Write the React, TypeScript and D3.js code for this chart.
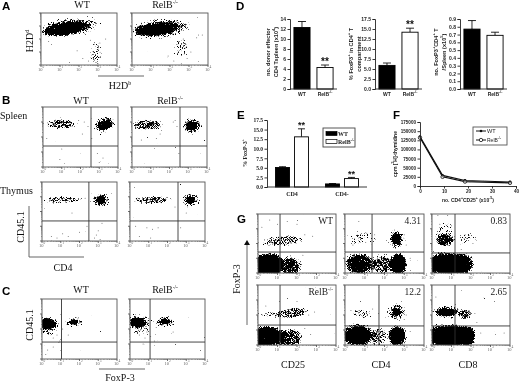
import React, { useEffect, useRef } from 'react'
import * as d3 from 'd3'

// Flow panels: values are in decades (0-4) on both axes.
// Dense populations are read off as ellipses [x, y, rx, ry, tilt, density],
// stray events as single [x, y] points.
type Cluster = [number, number, number, number, number, number]
type Pt = [number, number]

const decadeTicks = [0, 1, 2, 3, 4]
const minorSteps = [2, 3, 4, 5, 6, 7, 8, 9]

const aWtClusters: Cluster[] = [[1.3, 2.8, 1.3, 0.52, 8, 1], [1.5, 2.9, 1.85, 0.85, 8, 0.5], [2.9, 0.9, 0.35, 1.0, 0, 0.36]]
const aWtStrays: Pt[] = [[2.8, 1.6], [3.0, 1.2], [2.7, 0.8], [3.1, 0.6], [2.5, 0.3], [2.9, 0.2], [3.1, 1.7], [2.2, 0.5], [3.4, 2.0], [1.9, 1.1], [0.4, 1.8], [1.5, 0.2], [3.0, 0.1], [2.6, 1.9]]
const aRelClusters: Cluster[] = [[1.3, 2.75, 1.3, 0.52, 6, 1], [1.5, 2.8, 1.85, 0.85, 6, 0.5], [2.6, 1.3, 0.5, 0.9, 0, 0.36]]
const aRelStrays: Pt[] = [[2.5, 1.8], [2.8, 1.3], [2.4, 0.9], [2.9, 0.5], [2.2, 0.3], [3.4, 2.1], [3.5, 2.3], [2.7, 2.0], [3.1, 1.0], [1.9, 0.7], [2.6, 0.1], [3.7, 2.3]]

const bSpWtClusters: Cluster[] = [[0.95, 2.85, 1.0, 0.38, 0, 0.55], [3.3, 2.8, 0.42, 0.32, 22, 1], [3.3, 2.85, 0.68, 0.58, 15, 0.55]]
const bSpWtStrays: Pt[] = [[2.2, 3.0], [2.4, 2.7], [2.1, 2.2], [0.9, 0.5], [1.0, 1.2], [2.9, 0.9], [3.2, 0.6], [3.0, 0.3], [0.2, 1.9], [1.9, 3.1], [2.6, 1.9]]
const bSpRelClusters: Cluster[] = [[0.8, 2.8, 0.95, 0.4, 0, 0.58], [3.2, 2.75, 0.3, 0.32, 0, 0.9], [3.2, 2.75, 0.62, 0.62, 0, 0.52]]
const bSpRelStrays: Pt[] = [[2.2, 3.0], [2.3, 3.1], [1.5, 2.2], [2.5, 0.9], [2.4, 2.7], [1.3, 1.9], [0.5, 1.8]]
const bThWtClusters: Cluster[] = [[1.05, 2.78, 1.15, 0.3, 0, 0.48], [3.15, 2.78, 0.26, 0.28, 10, 0.95], [3.15, 2.8, 0.58, 0.58, 0, 0.48]]
const bThWtStrays: Pt[] = [[1.1, 0.5], [0.8, 0.2], [1.4, 0.3], [2.0, 0.6], [2.4, 1.0], [2.9, 0.4], [3.0, 0.7], [2.8, 0.2], [3.1, 0.1], [1.6, 1.9], [2.3, 2.9], [0.5, 0.3], [3.2, 1.2]]
const bThRelClusters: Cluster[] = [[1.15, 2.78, 1.25, 0.32, 0, 0.48], [3.25, 2.78, 0.24, 0.28, 10, 0.95], [3.25, 2.8, 0.58, 0.55, 0, 0.48]]
const bThRelStrays: Pt[] = [[0.9, 0.9], [1.2, 0.8], [0.5, 0.3], [1.1, 0.2], [2.7, 0.9], [2.4, 2.3], [0.3, 1.0], [1.5, 0.9], [3.0, 1.9]]

const cWtClusters: Cluster[] = [[0.28, 2.33, 0.5, 0.38, 0, 1], [0.35, 2.2, 0.72, 0.8, 0, 0.45], [1.7, 2.45, 0.28, 0.18, 0, 0.8], [1.7, 2.45, 0.58, 0.38, 0, 0.48]]
const cWtStrays: Pt[] = [[0.6, 1.4], [0.9, 1.1], [0.95, 1.2], [1.0, 1.3], [0.3, 0.6], [0.6, 0.8], [0.8, 1.6], [1.4, 1.6], [0.2, 0.3], [1.1, 2.0]]
const cRelClusters: Cluster[] = [[0.4, 2.45, 0.5, 0.36, 0, 1], [0.5, 2.35, 0.78, 0.75, 0, 0.45], [1.87, 2.5, 0.32, 0.2, 0, 0.95], [1.87, 2.5, 0.6, 0.4, 0, 0.48]]
const cRelStrays: Pt[] = [[0.8, 1.4], [1.1, 1.5], [0.7, 1.0], [1.3, 1.2], [0.9, 1.8], [1.4, 2.1], [0.5, 1.6], [2.3, 1.8]]

const gWtCd25Clusters: Cluster[] = [[1.25, 2.17, 1.3, 0.42, 5, 0.48], [0.4, 0.55, 1.0, 0.88, 0, 1], [0.75, 0.55, 0.6, 0.8, 0, 1], [1.65, 0.45, 0.65, 0.78, 0, 0.68]]
const gWtCd25Strays: Pt[] = [[0.6, 3.6], [1.0, 3.3], [1.5, 3.5], [2.0, 3.3], [2.3, 1.2], [2.4, 2.6], [0.2, 3.1], [2.8, 2.5]]
const gWtCd4Clusters: Cluster[] = [[2.6, 2.3, 0.25, 0.4, 0, 0.9], [2.6, 2.3, 0.48, 0.72, 0, 0.5], [0.9, 2.3, 0.9, 0.6, 0, 0.32], [0.75, 0.6, 0.85, 0.85, 0, 0.82], [1.9, 0.55, 0.62, 0.8, 0, 0.55], [2.7, 0.6, 0.5, 0.85, 0, 1]]
const gWtCd4Strays: Pt[] = [[0.7, 3.5], [1.1, 2.7], [1.5, 2.6], [2.1, 2.2], [3.0, 2.6], [3.1, 1.9], [3.3, 1.0], [0.4, 1.9]]
const gWtCd8Clusters: Cluster[] = [[0.65, 2.25, 0.6, 0.46, 0, 0.58], [0.65, 2.6, 0.55, 1.0, 0, 0.32], [1.8, 2.3, 0.55, 0.5, 0, 0.3], [0.55, 0.6, 1.0, 0.88, 0, 1], [1.1, 0.6, 0.7, 0.85, 0, 1], [1.6, 0.6, 0.6, 0.85, 0, 0.85]]
const gWtCd8Strays: Pt[] = [[0.3, 3.9], [0.8, 3.9], [0.4, 3.3], [1.0, 3.2], [1.7, 2.6], [2.1, 2.0], [1.5, 1.6]]
const gRelCd25Clusters: Cluster[] = [[1.75, 2.13, 1.02, 0.4, 6, 0.55], [0.6, 2.05, 0.7, 0.25, 0, 0.36], [0.45, 0.55, 1.1, 0.82, 0, 0.95], [1.65, 0.45, 0.75, 0.75, 0, 0.62]]
const gRelCd25Strays: Pt[] = [[2.6, 2.0], [2.9, 2.2], [2.4, 1.1], [0.4, 2.6], [1.1, 2.9], [2.0, 2.9], [2.7, 0.7]]
const gRelCd4Clusters: Cluster[] = [[2.6, 2.2, 0.22, 0.28, 0, 1], [2.6, 2.2, 0.5, 0.65, 0, 0.55], [0.85, 2.1, 0.62, 0.36, 0, 0.42], [0.65, 0.65, 0.95, 0.85, 0, 0.95], [2.65, 0.6, 0.52, 0.8, 0, 0.95], [1.75, 0.55, 0.5, 0.75, 0, 0.48]]
const gRelCd4Strays: Pt[] = [[0.3, 2.3], [1.4, 2.4], [1.7, 2.1], [3.1, 2.0], [3.0, 1.7], [3.3, 0.9], [2.2, 1.9]]
const gRelCd8Clusters: Cluster[] = [[0.75, 2.2, 0.55, 0.26, 0, 0.95], [0.75, 2.2, 0.88, 0.52, 0, 0.5], [1.7, 2.05, 0.4, 0.4, 0, 0.58], [0.6, 0.6, 1.1, 0.88, 0, 1], [1.2, 0.6, 0.8, 0.88, 0, 1], [1.85, 0.6, 0.42, 0.8, 0, 0.95]]
const gRelCd8Strays: Pt[] = [[1.2, 2.7], [2.2, 2.1], [2.3, 1.5], [3.7, 0.8], [2.5, 0.8], [0.2, 3.2]]

// Bar panels
const barGroups = ['WT', 'RelB']
const effectorMeans = [12.3, 4.3]
const effectorTops = [13.5, 4.8]
const effectorTicks = [0, 2, 4, 6, 8, 10, 12, 14]
const foxpShareMeans = [5.9, 14.2]
const foxpShareTops = [6.5, 15.2]
const foxpShareTicks = [0, 2.5, 5, 7.5, 10, 12.5, 15, 17.5]
const foxpCountMeans = [0.77, 0.69]
const foxpCountTops = [0.88, 0.73]
const foxpCountTicks = [0, 0.1, 0.2, 0.3, 0.4, 0.5, 0.6, 0.7, 0.8, 0.9]

const eCategories = ['CD4', 'CD4-']
const eWtMeans = [5.1, 0.8]
const eWtTops = [5.3, 0.9]
const eRelMeans = [13.1, 2.2]
const eRelTops = [15.2, 2.5]
const eTicks = [0, 2.5, 5, 7.5, 10, 12.5, 15, 17.5]

// Suppression curve
const fDoses = [0, 9.4, 18.75, 37.5]
const fWt = [135000, 29000, 15000, 11000]
const fRel = [132000, 25000, 12000, 8500]
const fYTicks = [0, 25000, 50000, 75000, 100000, 125000, 150000, 175000]
const fXTicks = [0, 10, 20, 30, 40]

const SERIF = '"Liberation Serif", serif'
const SANS = '"Liberation Sans", sans-serif'

// small raised text, shifted without touching the flow of what follows
const sup = (t: string, size: number) => (
  <tspan baselineShift={size * 0.75} fontSize={size}>{t}</tspan>
)

function FlowPanel({ box, vGate, hGate, clusters, strays, note }: any) {
  const [x0, y0, x1, y1] = box
  const x = d3.scaleLinear().domain([0, 4]).range([x0, x1])
  const y = d3.scaleLinear().domain([0, 4]).range([y1, y0])
  const clipId = `clip-${x0}-${y0}`
  const minors = decadeTicks.slice(0, 4).flatMap(d => minorSteps.map(m => d + Math.log10(m)))

  return (
    <g>
      <clipPath id={clipId}><rect x={x0} y={y0} width={x1 - x0} height={y1 - y0} /></clipPath>
      <g clipPath={`url(#${clipId})`} filter="url(#stipple)">
        {clusters.map((c: Cluster, i: number) => (
          <ellipse key={i} cx={x(c[0])} cy={y(c[1])}
            rx={x(c[2]) - x(0)} ry={y(0) - y(c[3])}
            transform={`rotate(${-c[4]} ${x(c[0])} ${y(c[1])})`}
            fill="url(#density)" fillOpacity={c[5]} />
        ))}
      </g>
      {strays.map((p: Pt, i: number) => (
        <circle key={i} cx={x(p[0])} cy={y(p[1])} r={0.5} fill="#666" />
      ))}
      <rect x={x0} y={y0} width={x1 - x0} height={y1 - y0} fill="none" stroke="#555" strokeWidth={0.9} />
      {vGate != null && <line x1={x(vGate)} x2={x(vGate)} y1={y0} y2={y1} stroke="#333" strokeWidth={0.9} />}
      {hGate != null && <line x1={x0} x2={x1} y1={y(hGate)} y2={y(hGate)} stroke="#333" strokeWidth={0.9} />}
      {decadeTicks.map(d => (
        <g key={d}>
          <line x1={x(d)} x2={x(d)} y1={y1} y2={y1 + 2} stroke="#333" strokeWidth={0.7} />
          <line x1={x0} x2={x0 - 2} y1={y(d)} y2={y(d)} stroke="#333" strokeWidth={0.7} />
          <text x={x(d)} y={y1 + 6} textAnchor="middle" fontSize={4.5} fontFamily={SERIF} fill="#666">
            10{sup(String(d), 3.5)}
          </text>
        </g>
      ))}
      {minors.map(d => (
        <g key={d}>
          <line x1={x(d)} x2={x(d)} y1={y1} y2={y1 + 1} stroke="#555" strokeWidth={0.5} />
          <line x1={x0} x2={x0 - 1} y1={y(d)} y2={y(d)} stroke="#555" strokeWidth={0.5} />
        </g>
      ))}
      {note && (
        <text x={x1 - 3} y={y0 + 10} textAnchor="end" fontSize={9.5} fontFamily={SERIF} fill="#222">{note}</text>
      )}
    </g>
  )
}

function LeftAxis({ scale, at, ticks, format, fontSize, family }: any) {
  const ref = useRef<SVGGElement>(null)
  useEffect(() => {
    const g = d3.select(ref.current!)
    g.call(d3.axisLeft(scale).tickValues(ticks).tickFormat(format).tickSize(2.5).tickPadding(1.5) as any)
    g.selectAll('text').attr('font-size', fontSize).attr('font-family', family).attr('font-weight', 'bold').attr('fill', '#222')
    g.selectAll('line,path').attr('stroke', '#222').attr('stroke-width', 0.9)
  }, [])
  return <g ref={ref} transform={`translate(${at},0)`} />
}

function BottomAxis({ scale, at, ticks, fontSize }: any) {
  const ref = useRef<SVGGElement>(null)
  useEffect(() => {
    const g = d3.select(ref.current!)
    g.call(d3.axisBottom(scale).tickValues(ticks).tickSize(2.5).tickPadding(1.5) as any)
    g.selectAll('text').attr('font-size', fontSize).attr('font-family', SANS).attr('font-weight', 'bold').attr('fill', '#222')
    g.selectAll('line,path').attr('stroke', '#222').attr('stroke-width', 0.9)
  }, [])
  return <g ref={ref} transform={`translate(0,${at})`} />
}

function ErrorBar({ x, from, to, w }: any) {
  return (
    <g stroke="#111" strokeWidth={0.9}>
      <line x1={x} x2={x} y1={from} y2={to} />
      <line x1={x - w} x2={x + w} y1={to} y2={to} />
    </g>
  )
}

function BarPanel({ left, means, tops, ticks, format, yMax, mark }: any) {
  const y = d3.scaleLinear().domain([0, yMax]).range([89, 19])
  const x = d3.scaleBand().domain(barGroups).range([left, left + 47]).paddingInner(0.3).paddingOuter(0.17)
  return (
    <g>
      {barGroups.map((g, i) => (
        <g key={g}>
          <ErrorBar x={x(g)! + x.bandwidth() / 2} from={y(means[i])} to={y(tops[i])} w={4} />
          <rect x={x(g)} y={y(means[i])} width={x.bandwidth()} height={89 - y(means[i])}
            fill={i === 0 ? '#000' : '#fff'} stroke="#000" strokeWidth={0.9} />
          <text x={x(g)! + x.bandwidth() / 2} y={96} textAnchor="middle" fontSize={5} fontWeight="bold" fontFamily={SANS} fill="#222">
            {i === 0 ? 'WT' : 'RelB'}{i === 1 && sup('-/-', 3.5)}
          </text>
        </g>
      ))}
      {mark && (
        <text x={x('RelB')! + x.bandwidth() / 2} y={y(tops[1]) - 0.5} textAnchor="middle" fontSize={10} fontWeight="bold" fontFamily={SANS} fill="#111">**</text>
      )}
      <LeftAxis scale={y} at={left} ticks={ticks} format={format} fontSize={5} family={SANS} />
      <line x1={left} x2={left + 47} y1={89} y2={89} stroke="#222" strokeWidth={0.9} />
    </g>
  )
}

function BarLegend({ box }: any) {
  const [x0, y0, x1, y1] = box
  const h = y1 - y0
  return (
    <g>
      <rect x={x0} y={y0} width={x1 - x0} height={h} fill="#fff" stroke="#444" strokeWidth={0.9} />
      <rect x={x0 + 3} y={y0 + 3.5} width={11} height={4} fill="#000" stroke="#000" strokeWidth={0.7} />
      <rect x={x0 + 3} y={y0 + 11.5} width={11} height={4} fill="#fff" stroke="#000" strokeWidth={0.7} />
      <text x={x0 + 15} y={y0 + 7.8} fontSize={6} fontWeight="bold" fontFamily={SERIF} fill="#222">WT</text>
      <text x={x0 + 15} y={y0 + 16} fontSize={6} fontWeight="bold" fontFamily={SERIF} fill="#222">RelB{sup('-/-', 4)}</text>
    </g>
  )
}

function PanelE() {
  const y = d3.scaleLinear().domain([0, 17.5]).range([187, 120])
  const group = d3.scaleBand().domain(eCategories).range([267, 367])
  const inner = d3.scaleBand().domain(barGroups).range([8.5, 41.5]).paddingInner(0.26).paddingOuter(0)
  return (
    <g>
      {eCategories.map((c, i) => (
        <g key={c}>
          {barGroups.map(g => {
            const mean = g === 'WT' ? eWtMeans[i] : eRelMeans[i]
            const top = g === 'WT' ? eWtTops[i] : eRelTops[i]
            const bx = group(c)! + inner(g)!
            return (
              <g key={g}>
                <ErrorBar x={bx + inner.bandwidth() / 2} from={y(mean)} to={y(top)} w={3.5} />
                <rect x={bx} y={y(mean)} width={inner.bandwidth()} height={187 - y(mean)}
                  fill={g === 'WT' ? '#000' : '#fff'} stroke="#000" strokeWidth={0.9} />
                {g === 'RelB' && (
                  <text x={bx + inner.bandwidth() / 2} y={y(top) - 0.5} textAnchor="middle" fontSize={9} fontWeight="bold" fontFamily={SANS} fill="#111">**</text>
                )}
              </g>
            )
          })}
          <text x={group(c)! + 25} y={195.5} textAnchor="middle" fontSize={6} fontWeight="bold" fontFamily={SERIF} fill="#222">{c}</text>
        </g>
      ))}
      <LeftAxis scale={y} at={267} ticks={eTicks} format={d3.format('.1f')} fontSize={5.5} family={SERIF} />
      <line x1={267} x2={367} y1={187} y2={187} stroke="#222" strokeWidth={0.9} />
      <text transform="translate(247,153) rotate(-90)" textAnchor="middle" fontSize={6} fontWeight="bold" fontFamily={SERIF} fill="#222">
        % FoxP-3{sup('+', 4)}
      </text>
      <BarLegend box={[323, 128, 355, 147]} />
    </g>
  )
}

function PanelF() {
  const x = d3.scaleLinear().domain([0, 40]).range([420, 516])
  const y = d3.scaleLinear().domain([0, 175000]).range([186, 122])
  const line = d3.line<number>().x((_, i) => x(fDoses[i])).y(d => y(d))
  return (
    <g>
      <path d={line(fWt)!} fill="none" stroke="#111" strokeWidth={1.1} />
      <path d={line(fRel)!} fill="none" stroke="#111" strokeWidth={1.1} />
      {fWt.map((d, i) => <circle key={i} cx={x(fDoses[i])} cy={y(d)} r={1.4} fill="#111" />)}
      {fRel.map((d, i) => <circle key={i} cx={x(fDoses[i])} cy={y(d)} r={1.7} fill="#fff" fillOpacity={0.5} stroke="#111" strokeWidth={0.8} />)}
      <LeftAxis scale={y} at={420} ticks={fYTicks} format={d3.format('d')} fontSize={4.6} family={SANS} />
      <BottomAxis scale={x} at={186} ticks={fXTicks} fontSize={4.6} />
      <text transform="translate(397,154) rotate(-90)" textAnchor="middle" fontSize={5} fontWeight="bold" fontFamily={SANS} fill="#222">
        cpm [{sup('3', 3.5)}H]-thymidine
      </text>
      <text x={468} y={202} textAnchor="middle" fontSize={5} fontWeight="bold" fontFamily={SANS} fill="#222">
        no. CD4{sup('+', 3.5)}CD25{sup('+', 3.5)} (x10{sup('-5', 3.5)})
      </text>
      <rect x={473} y={127} width={34} height={18} fill="#fff" stroke="#555" strokeWidth={0.9} />
      <line x1={476} x2={486} y1={131} y2={131} stroke="#111" strokeWidth={1} />
      <circle cx={481} cy={131} r={1.3} fill="#111" />
      <line x1={476} x2={486} y1={140} y2={140} stroke="#111" strokeWidth={1} />
      <circle cx={481} cy={140} r={1.7} fill="#fff" stroke="#111" strokeWidth={0.8} />
      <text x={487} y={133} fontSize={5.5} fontFamily={SANS} fill="#222">WT</text>
      <text x={487} y={142} fontSize={5} fontFamily={SANS} fill="#222">RelB{sup('-/-', 3.5)}</text>
    </g>
  )
}

const Label = ({ x, y, size = 10, children, rotate }: any) => (
  <text transform={`translate(${x},${y})${rotate ? ' rotate(-90)' : ''}`} textAnchor="middle" fontSize={size} fontFamily={SERIF} fill="#111">
    {children}
  </text>
)

const Letter = ({ x, y, t }: any) => (
  <text x={x} y={y} fontSize={11.5} fontWeight="bold" fontFamily={SANS} fill="#000">{t}</text>
)

const Rule = ({ x1, y1, x2, y2 }: any) => (
  <line x1={x1} y1={y1} x2={x2} y2={y2} stroke="#666" strokeWidth={1} />
)

export default function App() {
  const relB = (size: number) => <>RelB{sup('-/-', size * 0.55)}</>
  return (
    <svg width={520} height={382} viewBox="0 0 520 382" style={{ position: 'absolute', left: 0, top: 0, background: '#fff' }}>
      <defs>
        <radialGradient id="density">
          <stop offset="0" stopColor="#000" stopOpacity={1} />
          <stop offset="0.6" stopColor="#000" stopOpacity={0.9} />
          <stop offset="1" stopColor="#000" stopOpacity={0.1} />
        </radialGradient>
        <filter id="stipple" filterUnits="userSpaceOnUse" x={0} y={0} width={520} height={382} colorInterpolationFilters="sRGB">
          <feTurbulence type="fractalNoise" baseFrequency={1.3} numOctaves={2} seed={4} result="noise" />
          <feColorMatrix in="noise" type="matrix" values="0 0 0 0 0  0 0 0 0 0  0 0 0 0 0  1 0 0 0 0" result="grain" />
          <feComposite in="SourceAlpha" in2="grain" operator="arithmetic" k1={0} k2={1.3} k3={1.7} k4={-1.38} />
          <feComponentTransfer>
            <feFuncA type="linear" slope={6} />
          </feComponentTransfer>
        </filter>
        <filter id="soft" filterUnits="userSpaceOnUse" x={0} y={0} width={520} height={382}>
          <feGaussianBlur stdDeviation={0.3} />
        </filter>
      </defs>

      <g filter="url(#soft)">
        <Letter x={2} y={10} t="A" />
        <Label x={82} y={8}>WT</Label>
        <Label x={165} y={8}>{relB(10)}</Label>
        <FlowPanel box={[41, 13, 117, 65]} clusters={aWtClusters} strays={aWtStrays} />
        <FlowPanel box={[132, 13, 208, 65]} clusters={aRelClusters} strays={aRelStrays} />
        <Label x={33} y={41} rotate>H2D{sup('d', 6)}</Label>
        <Rule x1={98} y1={76} x2={144} y2={76} />
        <Label x={120} y={89}>H2D{sup('b', 6)}</Label>

        <Letter x={2} y={104} t="B" />
        <Label x={81} y={104}>WT</Label>
        <Label x={170} y={104}>{relB(10)}</Label>
        <text x={0} y={119} fontSize={10} fontFamily={SERIF} fill="#111">Spleen</text>
        <text x={0} y={194} fontSize={10} fontFamily={SERIF} fill="#111">Thymus</text>
        <FlowPanel box={[43, 107, 118, 167]} vGate={2.56} hGate={1.4} clusters={bSpWtClusters} strays={bSpWtStrays} />
        <FlowPanel box={[132, 107, 207, 167]} vGate={2.56} hGate={1.4} clusters={bSpRelClusters} strays={bSpRelStrays} />
        <FlowPanel box={[42, 182, 117, 241]} vGate={2.5} hGate={1.36} clusters={bThWtClusters} strays={bThWtStrays} />
        <FlowPanel box={[130, 182, 205, 241]} vGate={2.56} hGate={1.36} clusters={bThRelClusters} strays={bThRelStrays} />
        <Rule x1={29} y1={206} x2={29} y2={257} />
        <Rule x1={29} y1={257} x2={84} y2={257} />
        <Label x={24} y={227} rotate>CD45.1</Label>
        <Label x={63} y={271}>CD4</Label>

        <Letter x={2} y={295} t="C" />
        <Label x={81} y={293}>WT</Label>
        <Label x={165} y={293}>{relB(10)}</Label>
        <FlowPanel box={[42, 299, 117, 359]} vGate={1.04} hGate={1.13} clusters={cWtClusters} strays={cWtStrays} />
        <FlowPanel box={[130, 299, 205, 359]} vGate={1.07} hGate={1.13} clusters={cRelClusters} strays={cRelStrays} />
        <Label x={33} y={325} rotate>CD45.1</Label>
        <Rule x1={99} y1={369} x2={145} y2={369} />
        <Label x={120} y={381}>FoxP-3</Label>

        <Letter x={236} y={10} t="D" />
        <BarPanel left={290} means={effectorMeans} tops={effectorTops} ticks={effectorTicks} format={d3.format('d')} yMax={14} mark />
        <text transform="translate(270,52) rotate(-90)" textAnchor="middle" fontSize={5.6} fontWeight="bold" fontFamily={SANS} fill="#222">no. donor effector</text>
        <text transform="translate(278,52) rotate(-90)" textAnchor="middle" fontSize={5.6} fontWeight="bold" fontFamily={SANS} fill="#222">CD4 Tspleen (x10{sup('4', 4)})</text>
        <BarPanel left={375} means={foxpShareMeans} tops={foxpShareTops} ticks={foxpShareTicks} format={d3.format('.1f')} yMax={17.5} mark />
        <text transform="translate(353,54) rotate(-90)" textAnchor="middle" fontSize={5.6} fontWeight="bold" fontFamily={SANS} fill="#222">% FoxP3{sup('+', 4)} in CD4{sup('+', 4)} T</text>
        <text transform="translate(361,54) rotate(-90)" textAnchor="middle" fontSize={5.6} fontWeight="bold" fontFamily={SANS} fill="#222">compartment</text>
        <BarPanel left={460} means={foxpCountMeans} tops={foxpCountTops} ticks={foxpCountTicks} format={d3.format('.1f')} yMax={0.9} />
        <text transform="translate(438,52) rotate(-90)" textAnchor="middle" fontSize={5.6} fontWeight="bold" fontFamily={SANS} fill="#222">no. FoxP3{sup('+', 4)}CD4{sup('+', 4)} T</text>
        <text transform="translate(446,52) rotate(-90)" textAnchor="middle" fontSize={5.6} fontWeight="bold" fontFamily={SANS} fill="#222">/Spleen (x10{sup('5', 4)})</text>

        <Letter x={237} y={119} t="E" />
        <PanelE />
        <Letter x={393} y={119} t="F" />
        <PanelF />

        <Letter x={237} y={223} t="G" />
        <FlowPanel box={[258, 214, 336, 273]} vGate={1.13} hGate={1.42} clusters={gWtCd25Clusters} strays={gWtCd25Strays} note="WT" />
        <FlowPanel box={[345, 214, 424, 273]} vGate={1.37} hGate={1.42} clusters={gWtCd4Clusters} strays={gWtCd4Strays} note="4.31" />
        <FlowPanel box={[432, 214, 510, 273]} vGate={1.18} hGate={1.36} clusters={gWtCd8Clusters} strays={gWtCd8Strays} note="0.83" />
        <FlowPanel box={[258, 285, 336, 345]} vGate={1.13} hGate={1.33} clusters={gRelCd25Clusters} strays={gRelCd25Strays} note={relB(9.5)} />
        <FlowPanel box={[345, 285, 424, 345]} vGate={1.72} hGate={1.27} clusters={gRelCd4Clusters} strays={gRelCd4Strays} note="12.2" />
        <FlowPanel box={[432, 285, 510, 345]} vGate={1.18} hGate={1.27} clusters={gRelCd8Clusters} strays={gRelCd8Strays} note="2.65" />
        <Rule x1={247} y1={244} x2={247} y2={325} />
        <path d={d3.line()([[244, 245], [247, 240], [250, 245]])!} fill="#111" />
        <Label x={240} y={279} rotate>FoxP-3</Label>
        <Label x={293} y={368}>CD25</Label>
        <Label x={381} y={368}>CD4</Label>
        <Label x={468} y={368}>CD8</Label>
      </g>
    </svg>
  )
}
